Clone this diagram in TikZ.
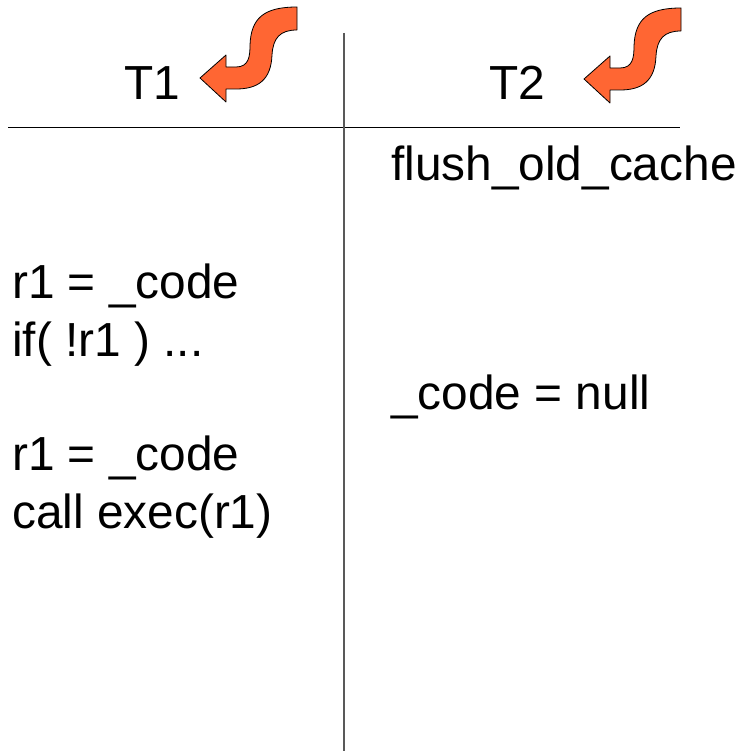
\documentclass[tikz,border=0pt]{standalone}
\usepackage{fontspec}
\setmainfont{Liberation Sans}
\definecolor{arroworange}{HTML}{FF6633}
\begin{document}
\begin{tikzpicture}[x=1pt,y=-1pt,
  txt/.style={anchor=base west,inner sep=0pt,font=\fontsize{47.8}{57}\selectfont},
  bendarrow/.pic={\filldraw[fill=arroworange,draw=black,line width=0.8pt,line join=round]
    (0,0) -- (26,-23) -- (26,-11) -- (36,-11)
    .. controls (49,-11) and (50,-22) .. (50,-33)
    .. controls (51,-60) and (64,-71) .. (97,-71)
    -- (97,-48)
    .. controls (80,-48) and (73,-40) .. (72,-23)
    .. controls (71,2) and (58,11) .. (36,11)
    -- (26,11) -- (26,24) -- cycle;}]
\useasboundingbox (0,0) rectangle (743,751);
% lines
\coordinate (hl) at (8,128);
\coordinate (hr) at (680,128);
\coordinate (vt) at (344,33);
\coordinate (vb) at (344,751);
\draw[line width=1pt] (hl) -- (hr);
\draw[line width=1.2pt,black!65] (vt) -- (vb);
% headers
\node[txt] (t1) at (124,100) {T1};
\node[txt] (t2) at (489,100) {T2};
\pic at (200,78) {bendarrow};
\pic at (584,79) {bendarrow};
% T1 column
\node[txt] (a1) at (12,298) {r1 = \_code};
\node[txt] (a2) at (12,356) {if( !r1 ) ...};
\node[txt] (a3) at (12,470) {r1 = \_code};
\node[txt] (a4) at (12,528) {call exec(r1)};
% T2 column
\node[txt] (b1) at (391,181) {flush\_old\_cache};
\node[txt] (b2) at (391,409) {\_code = null};
\end{tikzpicture}
\end{document}
